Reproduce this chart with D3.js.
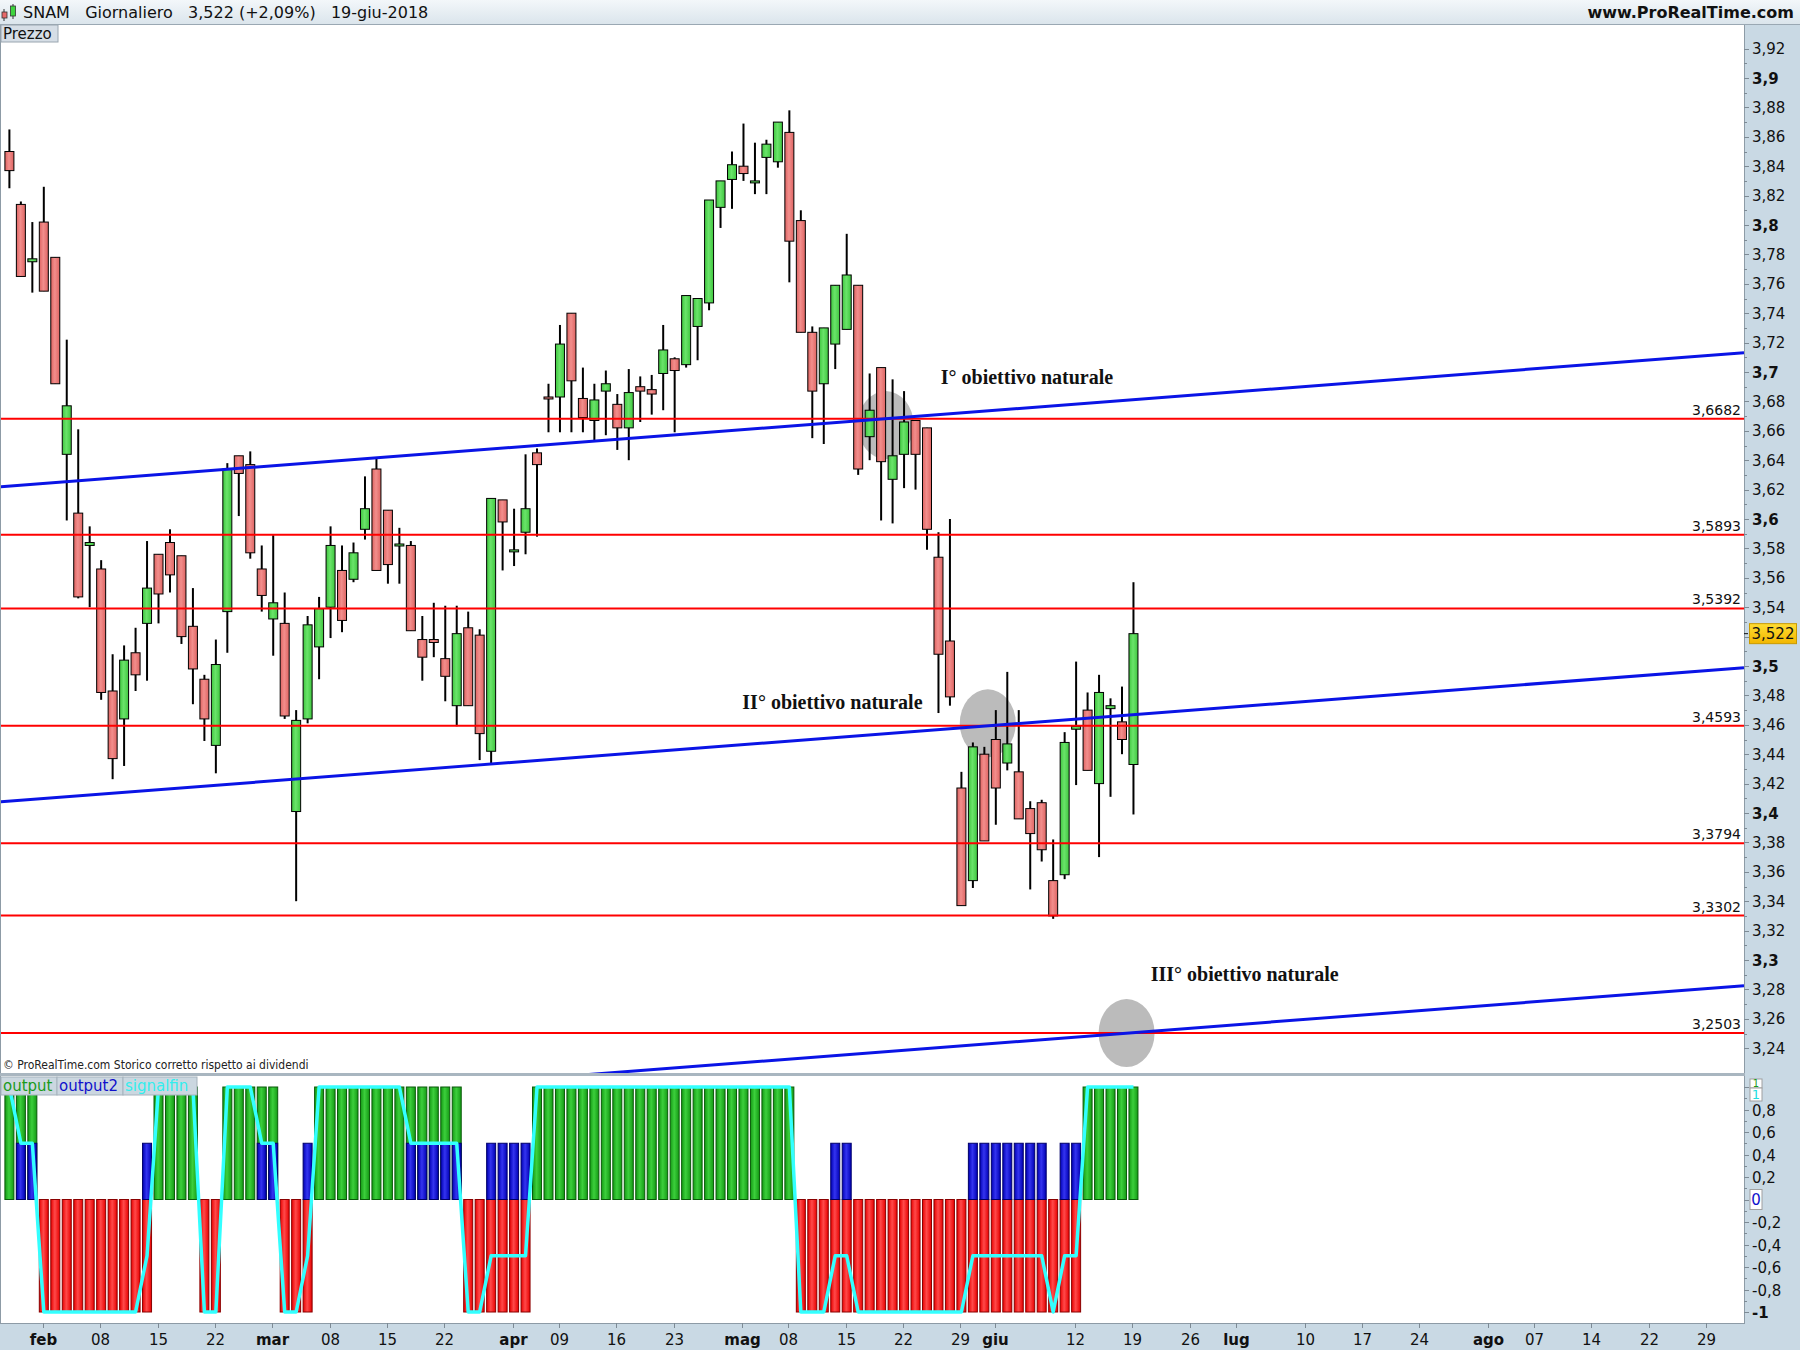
<!DOCTYPE html>
<html><head><meta charset="utf-8">
<script src="https://cdn.jsdelivr.net/npm/d3@7"></script>
<style>body{margin:0;background:#fff} svg{display:block}</style>
</head><body><svg id="c" width="1800" height="1350"></svg>
<script>
// ---------------- DATA ----------------
const opens  =[3.850,3.814,3.775,3.802,3.778,3.644,3.604,3.582,3.566,3.483,3.464,3.509,3.529,3.576,3.584,3.575,3.527,3.491,3.446,3.537,3.643,3.637,3.566,3.532,3.529,3.401,3.464,3.513,3.540,3.565,3.559,3.593,3.634,3.606,3.582,3.582,3.518,3.518,3.505,3.473,3.526,3.521,3.442,3.613,3.579,3.591,3.645,3.683,3.683,3.740,3.682,3.667,3.687,3.678,3.662,3.690,3.688,3.699,3.709,3.705,3.731,3.747,3.812,3.831,3.840,3.830,3.846,3.843,3.863,3.803,3.727,3.692,3.719,3.729,3.759,3.656,3.703,3.627,3.644,3.667,3.662,3.574,3.517,3.417,3.354,3.440,3.450,3.434,3.428,3.403,3.407,3.354,3.358,3.457,3.470,3.420,3.471,3.462,3.433];
const highs  =[3.865,3.816,3.802,3.826,3.778,3.722,3.661,3.595,3.572,3.508,3.514,3.526,3.585,3.576,3.593,3.575,3.553,3.494,3.518,3.638,3.643,3.646,3.582,3.589,3.550,3.470,3.534,3.547,3.595,3.582,3.584,3.629,3.641,3.606,3.594,3.585,3.534,3.543,3.541,3.541,3.537,3.525,3.614,3.613,3.607,3.644,3.648,3.692,3.732,3.740,3.703,3.692,3.701,3.685,3.702,3.697,3.698,3.732,3.710,3.752,3.750,3.817,3.830,3.850,3.869,3.856,3.858,3.870,3.878,3.810,3.731,3.730,3.759,3.794,3.759,3.699,3.703,3.695,3.687,3.667,3.662,3.591,3.600,3.428,3.448,3.445,3.470,3.496,3.470,3.408,3.409,3.382,3.455,3.503,3.482,3.494,3.478,3.486,3.557];
const lows   =[3.825,3.765,3.754,3.755,3.692,3.599,3.546,3.540,3.477,3.423,3.432,3.483,3.490,3.529,3.550,3.515,3.474,3.449,3.427,3.509,3.602,3.573,3.537,3.507,3.464,3.340,3.461,3.491,3.519,3.523,3.557,3.586,3.565,3.556,3.556,3.524,3.490,3.506,3.476,3.459,3.473,3.436,3.434,3.565,3.568,3.576,3.588,3.659,3.659,3.659,3.659,3.653,3.657,3.647,3.640,3.666,3.671,3.674,3.659,3.703,3.708,3.742,3.798,3.811,3.830,3.821,3.821,3.839,3.761,3.727,3.655,3.651,3.702,3.729,3.630,3.640,3.599,3.597,3.621,3.620,3.579,3.468,3.473,3.337,3.349,3.381,3.392,3.429,3.396,3.348,3.367,3.328,3.355,3.419,3.429,3.370,3.411,3.440,3.399];
const closes =[3.837,3.765,3.777,3.755,3.692,3.677,3.547,3.584,3.482,3.437,3.504,3.494,3.553,3.549,3.562,3.520,3.498,3.464,3.501,3.634,3.631,3.577,3.548,3.543,3.466,3.463,3.528,3.539,3.582,3.531,3.577,3.607,3.565,3.569,3.583,3.524,3.506,3.516,3.493,3.522,3.473,3.454,3.614,3.598,3.579,3.607,3.637,3.682,3.719,3.694,3.669,3.681,3.692,3.662,3.686,3.687,3.685,3.715,3.701,3.752,3.750,3.817,3.830,3.841,3.835,3.830,3.855,3.870,3.789,3.727,3.687,3.730,3.759,3.766,3.634,3.674,3.639,3.643,3.666,3.644,3.593,3.508,3.479,3.337,3.445,3.381,3.417,3.447,3.396,3.386,3.375,3.330,3.448,3.459,3.429,3.482,3.473,3.450,3.522];

const levels = [3.6682,3.5893,3.5392,3.4593,3.3794,3.3302,3.2503];
const levelLabels = ["3,6682","3,5893","3,5392","3,4593","3,3794","3,3302","3,2503"];
// trend lines: price at first session (29-gen-2018) and daily slope
const trendStart = [3.6224,3.4081,3.1918];
const trendSlope = [0.0006,0.0006,0.0006];
// grey marks (session index, price) where each line meets its level
const markIdx   = [76.4,85.3,97.4];
const markPrice = [3.6639,3.4610,3.2503];
const annoText  = ["I° obiettivo naturale","II° obiettivo naturale","III° obiettivo naturale"];
const annoIdx   = [81.2,63.9,99.5];
const annoPrice = [3.692,3.471,3.286];

const output  =[1,1,1,-1,-1,-1,-1,-1,-1,-1,-1,-1,-1,1,1,1,1,-1,-1,1,1,1,1,1,-1,-1,-1,1,1,1,1,1,1,1,1,1,1,1,1,1,-1,-1,-1,-1,-1,-1,1,1,1,1,1,1,1,1,1,1,1,1,1,1,1,1,1,1,1,1,1,1,1,-1,-1,-1,-1,-1,-1,-1,-1,-1,-1,-1,-1,-1,-1,-1,-1,-1,-1,-1,-1,-1,-1,-1,-1,-1,1,1,1,1,1];
const output2 =[0,0.5,0.5,0,0,0,0,0,0,0,0,0,0.5,0,0,0,0,0,0,0,0,0,0.5,0.5,0,0,0.5,0,0,0,0,0,0,0,0,0.5,0.5,0.5,0.5,0.5,0,0,0.5,0.5,0.5,0.5,0,0,0,0,0,0,0,0,0,0,0,0,0,0,0,0,0,0,0,0,0,0,0,0,0,0,0.5,0.5,0,0,0,0,0,0,0,0,0,0,0.5,0.5,0.5,0.5,0.5,0.5,0.5,0,0.5,0.5,0,0,0,0,0];
const signalfin=[1,0.5,0.5,-1,-1,-1,-1,-1,-1,-1,-1,-1,-0.5,1,1,1,1,-1,-1,1,1,1,0.5,0.5,-1,-1,-0.5,1,1,1,1,1,1,1,1,0.5,0.5,0.5,0.5,0.5,-1,-1,-0.5,-0.5,-0.5,-0.5,1,1,1,1,1,1,1,1,1,1,1,1,1,1,1,1,1,1,1,1,1,1,1,-1,-1,-1,-0.5,-0.5,-1,-1,-1,-1,-1,-1,-1,-1,-1,-1,-0.5,-0.5,-0.5,-0.5,-0.5,-0.5,-0.5,-1,-0.5,-0.5,1,1,1,1,1];

const holidays = ["2018-03-30","2018-04-02","2018-05-01","2018-08-15"];
const tickDates  = ["2018-02-01","2018-02-08","2018-02-15","2018-02-22","2018-03-01","2018-03-08","2018-03-15","2018-03-22","2018-04-03","2018-04-09","2018-04-16","2018-04-23","2018-05-02","2018-05-08","2018-05-15","2018-05-22","2018-05-29","2018-06-01","2018-06-12","2018-06-19","2018-06-26","2018-07-02","2018-07-10","2018-07-17","2018-07-24","2018-08-01","2018-08-07","2018-08-14","2018-08-22","2018-08-29"];
const tickLabels = ["feb","08","15","22","mar","08","15","22","apr","09","16","23","mag","08","15","22","29","giu","12","19","26","lug","10","17","24","ago","07","14","22","29"];
// price labels (3,52 is hidden under the last-price tag)
const priceTicks = [3.24,3.26,3.28,3.3,3.32,3.34,3.36,3.38,3.4,3.42,3.44,3.46,3.48,3.5,3.54,3.56,3.58,3.6,3.62,3.64,3.66,3.68,3.7,3.72,3.74,3.76,3.78,3.8,3.82,3.84,3.86,3.88,3.9,3.92];
const indTicks = [-1,-0.8,-0.6,-0.4,-0.2,0.2,0.4,0.6,0.8];

// ---------------- LAYOUT ----------------
const W=1800,H=1350, axisX=1744, mainTop=25, mainBot=1073, indTop=1076, indBot=1323;
const FONT="DejaVu Sans";
const svg=d3.select("#c");
const defs=svg.append("defs");
function hgrad(id,c1,c2){const g=defs.append("linearGradient").attr("id",id).attr("x1",0).attr("x2",1).attr("y1",0).attr("y2",0);
  g.append("stop").attr("offset","0").attr("stop-color",c1);g.append("stop").attr("offset","0.45").attr("stop-color",c2);g.append("stop").attr("offset","1").attr("stop-color",c1);}
hgrad("cg","#3fc63f","#6ae46a"); hgrad("cr","#de6462","#f28e8c");
hgrad("ig","#149a14","#3ccf3c"); hgrad("ir","#e80000","#ff4a4a"); hgrad("ib","#0000b4","#3434f0");
const vg=defs.append("linearGradient").attr("id","hdr").attr("x1",0).attr("x2",0).attr("y1",0).attr("y2",1);
vg.append("stop").attr("offset","0").attr("stop-color","#f3f7fa");vg.append("stop").attr("offset","1").attr("stop-color","#dbe5ec");
const yg=defs.append("linearGradient").attr("id","yel").attr("x1",0).attr("x2",0).attr("y1",0).attr("y2",1);
yg.append("stop").attr("offset","0").attr("stop-color","#ffdd33");yg.append("stop").attr("offset","1").attr("stop-color","#f2b600");
defs.append("clipPath").attr("id","mainClip").append("rect").attr("x",1).attr("y",mainTop).attr("width",axisX-1).attr("height",mainBot-mainTop);
defs.append("clipPath").attr("id","indClip").append("rect").attr("x",1).attr("y",indTop).attr("width",axisX-1).attr("height",indBot-indTop);

// calendar of sessions
const hol=new Set(holidays), fmt=d3.utcFormat("%Y-%m-%d");
const days=[];
for(let t=Date.UTC(2018,0,29); t<=Date.UTC(2018,8,7); t+=864e5){const d=new Date(t),wd=d.getUTCDay(); if(wd>0&&wd<6&&!hol.has(fmt(d))) days.push(fmt(d));}
const idxOf=new Map(days.map((d,i)=>[d,i]));

const x=d3.scaleLinear().domain([0,100]).range([9.4,9.4+100*11.47]);
const y=d3.scaleLinear().domain([3.6,3.92]).range([519,48.6]);
const yi=d3.scaleLinear().domain([-1,1]).range([1312,1087]);
const n=closes.length;

// backgrounds
svg.append("rect").attr("width",W).attr("height",H).attr("fill","#fff");
svg.append("rect").attr("x",axisX).attr("y",24).attr("width",W-axisX).attr("height",H-24).attr("fill","#c9d9e4");
svg.append("rect").attr("x",0).attr("y",indBot).attr("width",W).attr("height",H-indBot).attr("fill","#c9d9e4");
svg.append("line").attr("x1",axisX+0.5).attr("x2",axisX+0.5).attr("y1",24).attr("y2",indBot).attr("stroke","#8d9ba6");
svg.append("line").attr("x1",0.5).attr("x2",0.5).attr("y1",24).attr("y2",indBot).attr("stroke","#8d9ba6");
svg.append("rect").attr("x",0).attr("y",mainBot).attr("width",axisX+1).attr("height",3).attr("fill","#a9b6c0");
svg.append("line").attr("x1",0).attr("x2",axisX+1).attr("y1",indBot+0.5).attr("y2",indBot+0.5).attr("stroke","#8d9ba6");

// header
svg.append("rect").attr("x",0).attr("y",0).attr("width",W).attr("height",24).attr("fill","url(#hdr)");
svg.append("line").attr("x1",0).attr("x2",W).attr("y1",24.5).attr("y2",24.5).attr("stroke","#9aa8b3");
svg.append("line").attr("x1",4).attr("x2",4).attr("y1",9).attr("y2",21).attr("stroke","#333");
svg.append("rect").attr("x",2).attr("y",12).attr("width",5).attr("height",6).attr("fill","#e86a6a").attr("stroke","#333").attr("stroke-width",0.8);
svg.append("line").attr("x1",13).attr("x2",13).attr("y1",4).attr("y2",19).attr("stroke","#333");
svg.append("rect").attr("x",10.5).attr("y",6).attr("width",5).attr("height",10).attr("fill","#3fd43f").attr("stroke","#333").attr("stroke-width",0.8);
svg.append("text").attr("x",23).attr("y",18).attr("font-family",FONT).attr("font-size",16).attr("fill","#111")
  .attr("xml:space","preserve").text("SNAM   Giornaliero   3,522 (+2,09%)   19-giu-2018");
svg.append("text").attr("x",1794).attr("y",18).attr("text-anchor","end").attr("font-family",FONT).attr("font-size",16).attr("font-weight","bold").attr("fill","#111").text("www.ProRealTime.com");
svg.append("rect").attr("x",1).attr("y",25).attr("width",57).attr("height",17).attr("fill","#d6dee6").attr("stroke","#9aa6b0");
svg.append("text").attr("x",3).attr("y",39).attr("font-family",FONT).attr("font-size",15).attr("fill","#111").text("Prezzo");

// ---------------- MAIN PANEL ----------------
const main=svg.append("g").attr("clip-path","url(#mainClip)");
markIdx.forEach((mi,k)=>{
  main.append("ellipse").attr("cx",x(mi)).attr("cy",y(markPrice[k])).attr("rx",28).attr("ry",34).attr("fill","#bbbbbb");
});
const cg=main.append("g");
for(let i=0;i<n;i++){
  const cx=x(i), o=opens[i], c=closes[i], up=c>=o;
  cg.append("line").attr("x1",cx).attr("x2",cx).attr("y1",y(highs[i])).attr("y2",y(lows[i])).attr("stroke","#000").attr("stroke-width",2);
  const top=y(Math.max(o,c)), h=Math.max(2,Math.abs(y(o)-y(c)));
  cg.append("rect").attr("x",cx-4.5).attr("y",top).attr("width",9).attr("height",h)
    .attr("fill",up?"url(#cg)":"url(#cr)").attr("stroke","#000").attr("stroke-width",1);
}
levels.forEach((lv,k)=>{
  main.append("line").attr("x1",0).attr("x2",axisX).attr("y1",y(lv)).attr("y2",y(lv)).attr("stroke","#ff0000").attr("stroke-width",2);
  main.append("text").attr("x",axisX-3).attr("y",y(lv)-4).attr("text-anchor","end").attr("font-family",FONT).attr("font-size",14).attr("fill","#111").text(levelLabels[k]);
});
const i0=x.invert(0), i1=x.invert(axisX);
trendStart.forEach((p0,k)=>{
  main.append("line").attr("x1",x(i0)).attr("x2",x(i1)).attr("y1",y(p0+trendSlope[k]*i0)).attr("y2",y(p0+trendSlope[k]*i1))
    .attr("stroke","#0a14e6").attr("stroke-width",3);
});
annoText.forEach((t,k)=>{
  main.append("text").attr("x",x(annoIdx[k])).attr("y",y(annoPrice[k])).attr("font-family","Liberation Serif").attr("font-weight","bold").attr("font-size",20).attr("fill","#111").text(t);
});
svg.append("text").attr("x",3).attr("y",1069).attr("font-family","DejaVu Sans Condensed").attr("font-size",12).attr("fill","#222").text("© ProRealTime.com  Storico corretto rispetto ai dividendi");

// price axis
const fmtP=v=>{const r=Math.round(v*100); return (r%10===0? (r/100).toFixed(1):(r/100).toFixed(2)).replace(".",",");};
for(let v=3.24;v<=3.925;v+=0.01){
  const yy=Math.round(y(v))+0.5, major=Math.round(v*100)%2===0;
  svg.append("line").attr("x1",axisX).attr("x2",axisX+(major?5:3)).attr("y1",yy).attr("y2",yy).attr("stroke","#7d8a95");
}
priceTicks.forEach(v=>{
  const bold=Math.round(v*100)%10===0;
  svg.append("text").attr("x",axisX+8).attr("y",y(v)+5.5).attr("font-family",FONT).attr("font-size",15).attr("font-weight",bold?"bold":"normal").attr("fill","#111").text(fmtP(v));
});
const lp=closes[n-1];
svg.append("line").attr("x1",axisX).attr("x2",axisX+4).attr("y1",y(lp)).attr("y2",y(lp)).attr("stroke","#111");
svg.append("rect").attr("x",1749.5).attr("y",y(lp)-10).attr("width",47).attr("height",20).attr("fill","url(#yel)").attr("stroke","#c99a00");
svg.append("text").attr("x",1773).attr("y",y(lp)+5.5).attr("text-anchor","middle").attr("font-family",FONT).attr("font-size",15).attr("fill","#111").text(String(lp).replace(".",","));

// ---------------- INDICATOR PANEL ----------------
const ind=svg.append("g").attr("clip-path","url(#indClip)");
for(let i=0;i<n;i++){
  const cx=x(i), v=output[i];
  ind.append("rect").attr("x",cx-4.5).attr("y",Math.min(yi(0),yi(v))).attr("width",9).attr("height",Math.abs(yi(v)-yi(0)))
    .attr("fill",v>0?"url(#ig)":"url(#ir)").attr("stroke",v>0?"#0a5a0a":"#8a0000").attr("stroke-width",1);
  if(output2[i]>0) ind.append("rect").attr("x",cx-4.5).attr("y",yi(output2[i])).attr("width",9).attr("height",yi(0)-yi(output2[i]))
    .attr("fill","url(#ib)").attr("stroke","#00006a").attr("stroke-width",1);
}
ind.append("path").datum(signalfin).attr("d",d3.line().x((d,i)=>x(i)).y(d=>yi(d)))
  .attr("fill","none").attr("stroke","#33ffff").attr("stroke-width",3.5).attr("stroke-linejoin","round");
[["output","#1a9a1a",1,56],["output2","#1010cc",57,66],["signalfin","#33eeee",123,74]].forEach(([t,c,x0,w])=>{
  svg.append("rect").attr("x",x0).attr("y",1077).attr("width",w).attr("height",18).attr("fill","#cbd7e0").attr("stroke","#a6b3bd");
  svg.append("text").attr("x",x0+2).attr("y",1091).attr("font-family",FONT).attr("font-size",15).attr("fill",c).text(t);
});
const fmtI=v=>(Math.round(v*10)/10).toString().replace(".",",");
for(let k=-10;k<=10;k++){
  const v=k/10, yy=Math.round(yi(v))+0.5, major=k%2===0;
  svg.append("line").attr("x1",axisX).attr("x2",axisX+(major?5:3)).attr("y1",yy).attr("y2",yy).attr("stroke","#7d8a95");
}
indTicks.forEach(v=>{
  svg.append("text").attr("x",axisX+8).attr("y",yi(v)+6).attr("font-family",FONT).attr("font-size",15)
    .attr("font-weight",v===-1?"bold":"normal").attr("fill","#111").text(fmtI(v));
});
svg.append("rect").attr("x",1750).attr("y",1079).attr("width",12).attr("height",9).attr("fill","#fff").attr("stroke","#a0a0a0");
svg.append("text").attr("x",1756).attr("y",1087).attr("text-anchor","middle").attr("font-family",FONT).attr("font-size",10).attr("fill","#1a9a1a").text("1");
svg.append("rect").attr("x",1750).attr("y",1088).attr("width",12).attr("height",13).attr("fill","#fff").attr("stroke","#a0a0a0");
svg.append("text").attr("x",1756).attr("y",1099).attr("text-anchor","middle").attr("font-family",FONT).attr("font-size",13).attr("fill","#22dddd").text("1");
svg.append("rect").attr("x",1750).attr("y",yi(0)-10).attr("width",12).attr("height",20).attr("fill","#fff").attr("stroke","#a0a0a0");
svg.append("text").attr("x",1756).attr("y",yi(0)+5.5).attr("text-anchor","middle").attr("font-family",FONT).attr("font-size",15).attr("fill","#1010cc").text("0");

// ---------------- TIME AXIS ----------------
tickDates.forEach((d,k)=>{
  const xx=Math.round(x(idxOf.get(d)))-0.5, month=isNaN(+tickLabels[k]);
  svg.append("line").attr("x1",xx).attr("x2",xx).attr("y1",indBot).attr("y2",indBot+5).attr("stroke","#7d8a95");
  svg.append("text").attr("x",xx).attr("y",1345).attr("text-anchor","middle").attr("font-family",FONT).attr("font-size",15)
    .attr("font-weight",month?"bold":"normal").attr("fill","#111").text(tickLabels[k]);
});
</script></body></html>
